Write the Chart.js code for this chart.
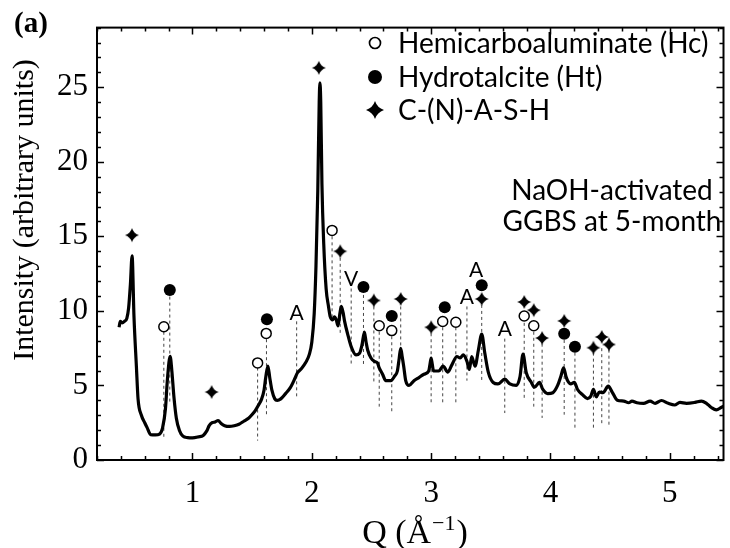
<!DOCTYPE html>
<html>
<head>
<meta charset="utf-8">
<script src="https://cdn.jsdelivr.net/npm/chart.js@4.4.1/dist/chart.umd.min.js"></script>
<style>
html, body { margin: 0; padding: 0; background: #fff; }
#wrap { width: 730px; height: 548px; }
</style>
</head>
<body>
<div id="wrap"><canvas id="xrdChart" width="730" height="548"></canvas></div>
<script>
// XRD pattern, NaOH-activated GGBS at 5 months

const qVals = [0.385, 0.395, 0.41, 0.43, 0.45, 0.465, 0.48, 0.494, 0.51, 0.53, 0.544, 0.572, 0.60, 0.62, 0.65,
               0.69, 0.724, 0.75, 0.774, 0.79, 0.813, 0.827, 0.845, 0.865, 0.89, 0.92, 0.96, 1.0, 1.05, 1.09,
               1.12, 1.14, 1.165, 1.19, 1.215, 1.24, 1.27, 1.31, 1.35, 1.39, 1.43, 1.47, 1.50, 1.525, 1.555,
               1.58, 1.60, 1.615, 1.632, 1.648, 1.665, 1.69, 1.71, 1.74, 1.78, 1.82, 1.86, 1.88, 1.91, 1.95,
               1.98, 2.0, 2.02, 2.035, 2.05, 2.062, 2.068, 2.075, 2.085, 2.10, 2.12, 2.14, 2.155, 2.175, 2.19,
               2.205, 2.22, 2.235, 2.247, 2.262, 2.275, 2.30, 2.33, 2.37, 2.40, 2.42, 2.441, 2.455, 2.468, 2.496,
               2.524, 2.55, 2.565, 2.593, 2.62, 2.662, 2.695, 2.717, 2.732, 2.745, 2.758, 2.77, 2.787, 2.815, 2.856,
               2.898, 2.94, 2.98, 2.99, 3.0, 3.01, 3.02, 3.064, 3.1, 3.14, 3.175, 3.216, 3.243, 3.27, 3.30,
               3.32, 3.34, 3.368, 3.396, 3.424, 3.45, 3.48, 3.52, 3.56, 3.617, 3.66, 3.714, 3.745, 3.77, 3.797,
               3.84, 3.866, 3.908, 3.936, 3.977, 4.02, 4.06, 4.088, 4.11, 4.13, 4.144, 4.17, 4.20, 4.227, 4.268,
               4.31, 4.337, 4.36, 4.384, 4.41, 4.44, 4.484, 4.517, 4.56, 4.614, 4.655, 4.683, 4.725, 4.78, 4.835,
               4.877, 4.93, 4.987, 5.04, 5.085, 5.14, 5.21, 5.265, 5.307, 5.348, 5.39, 5.43, 5.46];
const intensityVals = [8.9, 9.3, 9.2, 9.3, 9.5, 10.2, 11.8, 13.7, 9.6, 6.3, 4.1, 3.0, 2.5, 2.17, 1.7,
                       1.68, 1.74, 2.17, 3.47, 5.4, 6.95, 6.0, 4.2, 2.8, 2.0, 1.6, 1.5, 1.48, 1.55, 1.65,
                       1.95, 2.3, 2.5, 2.55, 2.65, 2.45, 2.3, 2.25, 2.3, 2.4, 2.6, 2.8, 3.05, 3.3, 3.7,
                       4.1, 4.7, 5.6, 6.3, 5.5, 4.7, 4.1, 4.0, 4.1, 4.45, 4.85, 5.5, 5.85, 6.1, 6.55,
                       7.1, 7.9, 9.8, 13.0, 18.0, 24.0, 25.3, 24.0, 18.5, 14.5, 11.5, 10.3, 9.6, 9.4, 9.6,
                       9.4, 9.0, 9.8, 10.3, 9.9, 9.3, 8.46, 7.6, 7.05, 7.16, 7.7, 8.57, 7.9, 7.38, 6.84,
                       6.62, 6.51, 6.18, 5.75, 5.32, 5.32, 5.64, 5.97, 6.8, 7.49, 6.9, 6.29, 5.32, 5.0, 5.32,
                       5.53, 5.75, 5.97, 6.4, 6.84, 6.4, 5.97, 5.97, 6.29, 5.9, 6.4, 6.94, 6.84, 7.05, 6.62,
                       6.07, 6.94, 6.29, 7.38, 8.45, 7.16, 5.86, 5.2, 5.1, 5.42, 5.1, 5.0, 5.6, 7.1, 5.86,
                       5.2, 4.88, 5.2, 4.73, 4.45, 4.51, 5.0, 5.64, 6.18, 5.6, 5.32, 5.1, 5.2, 4.73, 4.38,
                       4.12, 4.27, 4.73, 4.23, 4.56, 4.51, 4.95, 4.56, 4.01, 3.95, 3.84, 3.95, 3.84, 3.8, 3.95,
                       3.8, 3.99, 3.8, 3.69, 3.86, 3.8, 3.86, 3.95, 3.8, 3.52, 3.36, 3.52, 3.64];

// phase markers (Q, marker height)
const hcQ = [0.76, 1.546, 1.618, 2.17, 2.565, 2.67, 3.097, 3.207, 3.78, 3.86];
const hcI = [8.94, 6.51, 8.49, 15.4, 9.0, 8.68, 9.29, 9.24, 9.66, 9.0];
const htQ = [0.81, 1.624, 2.433, 2.67, 3.114, 3.424, 4.115, 4.205];
const htI = [11.4, 9.44, 11.6, 9.66, 10.24, 11.72, 8.46, 7.6];
const cashQ = [0.493, 1.161, 2.059, 2.238, 2.52, 2.745, 3.0, 3.424, 3.78, 3.86, 3.93, 4.115, 4.36, 4.43, 4.49];
const cashI = [15.08, 4.56, 26.3, 14.0, 10.7, 10.8, 8.9, 10.8, 10.6, 10.05, 8.18, 9.33, 7.53, 8.25, 7.75];

// other labelled reflections
const otherLabels = ["A", "V", "A", "A", "A"];
const otherQ = [1.873, 2.33, 3.30, 3.376, 3.617];
const otherI = [9.87, 12.15, 10.96, 12.8, 8.79];

// dashed drop lines (Q, top, bottom)
const guideQ = [0.76, 0.81, 1.546, 1.62, 1.873, 2.17, 2.238, 2.33, 2.433, 2.52, 2.565, 2.67, 2.745, 3.0,
                3.097, 3.207, 3.30, 3.424, 3.617, 3.78, 3.86, 3.93, 4.115, 4.205, 4.36, 4.43, 4.49];
const guideTop = [8.6, 10.96, 6.2, 8.1, 9.3, 15.0, 13.56, 11.5, 11.07, 10.3, 8.6, 8.3, 10.3, 8.5,
                  8.9, 8.9, 10.3, 10.4, 8.14, 9.2, 8.6, 7.8, 8.05, 7.2, 7.2, 7.5, 7.4];
const guideBottom = [1.43, 3.9, 1.3, 3.06, 4.23, 9.4, 8.46, 6.4, 6.29, 5.1, 3.58, 3.26, 7.49, 3.8,
                     3.8, 3.8, 5.32, 5.2, 3.15, 4.0, 3.58, 2.82, 3.04, 2.17, 2.17, 2.39, 2.3];

const xTickVals = [1, 2, 3, 4, 5];
const yTickVals = [0, 5, 10, 15, 20, 25];

const serif = "'Liberation Serif', 'Times New Roman', serif";
const sans = "Lato, 'Open Sans', sans-serif";

function makeStar(r){ //4-pointed star as a point style
	const c = document.createElement('canvas');
	c.width = c.height = 2 * r + 2;
	const ctx = c.getContext('2d');
	const m = r + 1, k = r * 0.25;
	ctx.fillStyle = '#000';
	ctx.beginPath();
	ctx.moveTo(m, m - r);
	ctx.quadraticCurveTo(m + k, m - k, m + r, m);
	ctx.quadraticCurveTo(m + k, m + k, m, m + r);
	ctx.quadraticCurveTo(m - k, m + k, m - r, m);
	ctx.quadraticCurveTo(m - k, m - k, m, m - r);
	ctx.fill();
	return c;
}
const starImg = makeStar(7);
const starLegendImg = makeStar(9);

const toPts = (xs, ys) => xs.map((x, i) => ({x: x, y: ys[i]}));

const guidePts = [];
guideQ.forEach((q, i) => {
	guidePts.push({x: q, y: guideTop[i]}, {x: q, y: guideBottom[i]}, {x: q, y: null});
});

// frame with inward ticks on all four sides
const framePlugin = {
	id: 'frame',
	afterDatasetsDraw(chart){
		const {ctx, chartArea: a, scales: {x, y}} = chart;
		ctx.save();
		ctx.strokeStyle = '#000';
		ctx.lineWidth = 1.5;
		for(let v = 0.2; v <= x.max + 1e-6; v += 0.2){
			const px = Math.round(x.getPixelForValue(v)) + 0.5;
			const major = Math.abs(v - Math.round(v)) < 1e-6;
			const len = major ? 7 : 4;
			ctx.beginPath();
			ctx.moveTo(px, a.bottom); ctx.lineTo(px, a.bottom - len);
			ctx.moveTo(px, a.top); ctx.lineTo(px, a.top + len);
			ctx.stroke();
		}
		for(let v = 0; v <= y.max; v++){
			const py = Math.round(y.getPixelForValue(v)) + 0.5;
			const len = v % 5 === 0 ? 7 : 4;
			ctx.beginPath();
			ctx.moveTo(a.left, py); ctx.lineTo(a.left + len, py);
			ctx.moveTo(a.right, py); ctx.lineTo(a.right - len, py);
			ctx.stroke();
		}
		ctx.lineWidth = 2;
		ctx.strokeRect(a.left, a.top, a.right - a.left, a.bottom - a.top);
		ctx.restore();
	}
};

// labels, legend, titles
const textPlugin = {
	id: 'texts',
	afterDraw(chart){
		const {ctx, scales: {x, y}} = chart;
		ctx.save();
		ctx.fillStyle = '#000';
		ctx.strokeStyle = '#000';

		//A / V reflections
		ctx.font = "21px " + sans;
		ctx.textAlign = 'center';
		ctx.textBaseline = 'alphabetic';
		otherLabels.forEach((t, i) => {
			ctx.fillText(t, x.getPixelForValue(otherQ[i]), y.getPixelForValue(otherI[i]) + 7.5);
		});

		//legend
		const ds = chart.data.datasets;
		const rows = [
			{set: ds[2], y: 43, draw: (cy) => { ctx.beginPath(); ctx.arc(375, cy, 5.5, 0, 2 * Math.PI); ctx.lineWidth = 1.7; ctx.stroke(); }},
			{set: ds[3], y: 77, draw: (cy) => { ctx.beginPath(); ctx.arc(375, cy, 7, 0, 2 * Math.PI); ctx.fill(); }},
			{set: ds[4], y: 110, draw: (cy) => { ctx.drawImage(starLegendImg, 375 - 10, cy - 10); }}
		];
		ctx.font = "28px " + sans;
		ctx.textAlign = 'left';
		rows.forEach(r => {
			r.draw(r.y);
			ctx.fillText(r.set.label, 398, r.y + 10);
		});

		//sample note
		ctx.textAlign = 'center';
		ctx.fillText("NaOH-activated", 612, 200);
		ctx.fillText("GGBS at 5-month", 612, 231);

		//panel letter
		ctx.textAlign = 'left';
		ctx.font = "bold 29px " + serif;
		ctx.fillText("(a)", 14, 32);

		//y title
		ctx.save();
		ctx.translate(33, 210);
		ctx.rotate(-Math.PI / 2);
		ctx.font = "30px " + serif;
		ctx.textAlign = 'center';
		ctx.fillText("Intensity (arbitrary units)", 0, 0);
		ctx.restore();

		//x title  Q (Å^-1)
		ctx.font = "34px " + serif;
		const p1 = "Q (\u00C5", p3 = ")";
		const w1 = ctx.measureText(p1).width, w3 = ctx.measureText(p3).width;
		ctx.font = "22px " + serif;
		const sup = "\u22121", w2 = ctx.measureText(sup).width + 2;
		let sx = 415 - (w1 + w2 + w3) / 2;
		const base = 543;
		ctx.font = "34px " + serif;
		ctx.fillText(p1, sx, base);
		ctx.font = "22px " + serif;
		ctx.fillText(sup, sx + w1 + 1, base - 13);
		ctx.font = "34px " + serif;
		ctx.fillText(p3, sx + w1 + w2, base);
		ctx.restore();
	}
};

new Chart('xrdChart', {
	type: 'scatter',
	data: {
		datasets: [
			{
				label: 'pattern',
				data: toPts(qVals, intensityVals),
				showLine: true,
				borderColor: '#000',
				borderWidth: 3.2,
				pointRadius: 0,
				cubicInterpolationMode: 'monotone',
				order: 2
			},
			{
				label: 'guides',
				data: guidePts,
				showLine: true,
				spanGaps: false,
				borderColor: '#444',
				borderWidth: 1,
				borderDash: [3, 3],
				pointRadius: 0,
				order: 3
			},
			{
				label: 'Hemicarboaluminate (Hc)',
				data: toPts(hcQ, hcI),
				pointStyle: 'circle',
				pointRadius: 5,
				pointBackgroundColor: '#fff',
				pointBorderColor: '#000',
				pointBorderWidth: 1.5,
				order: 1
			},
			{
				label: 'Hydrotalcite (Ht)',
				data: toPts(htQ, htI),
				pointStyle: 'circle',
				pointRadius: 6,
				pointBackgroundColor: '#000',
				pointBorderColor: '#000',
				pointBorderWidth: 0,
				order: 1
			},
			{
				label: 'C-(N)-A-S-H',
				data: toPts(cashQ, cashI),
				pointStyle: starImg,
				order: 1
			}
		]
	},
	options: {
		responsive: false,
		animation: false,
		devicePixelRatio: 1,
		layout: {padding: {left: 0, right: 2, top: 15, bottom: 0}},
		plugins: {legend: {display: false}, tooltip: {enabled: false}},
		scales: {
			x: {
				type: 'linear',
				min: 0.2,
				max: 5.45,
				grid: {display: false, drawTicks: false},
				border: {display: false},
				ticks: {color: '#000', font: {family: serif, size: 31}, padding: 15, maxRotation: 0},
				afterBuildTicks: s => { s.ticks = xTickVals.map(v => ({value: v})); },
				afterFit: s => { s.height = 88; }
			},
			y: {
				min: 0,
				max: 29,
				grid: {display: false, drawTicks: false},
				border: {display: false},
				ticks: {color: '#000', font: {family: serif, size: 31}, padding: 9},
				afterBuildTicks: s => { s.ticks = yTickVals.map(v => ({value: v})); },
				afterFit: s => { s.width = 97; }
			}
		}
	},
	plugins: [framePlugin, textPlugin]
});
</script>
</body>
</html>
